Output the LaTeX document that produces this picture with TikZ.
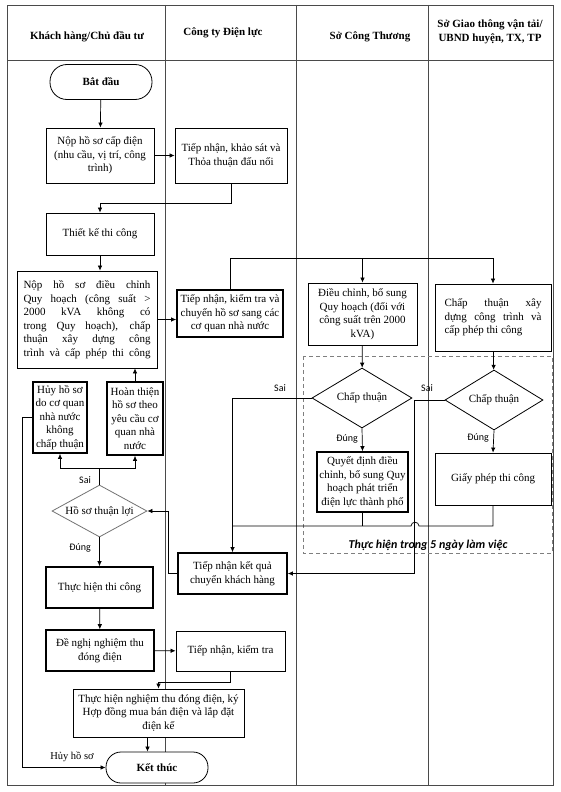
\documentclass[tikz,border=0pt]{standalone}
\usepackage{fontspec}
\setmainfont{Liberation Serif}
\newfontfamily\calibri{Carlito}
\usepackage{xcolor}
\definecolor{rule}{HTML}{4A4A4A}
\definecolor{dashgray}{HTML}{7F7F7F}
\usepackage{tikz}
\usetikzlibrary{shapes.geometric,arrows.meta,positioning,calc}
\newcommand{\boxfont}{\fontsize{11}{13.5}\selectfont}
\newcommand{\fillline}[1]{\makebox[\hsize][s]{\spaceskip=0pt\xspaceskip=0pt\relax #1}}

\begin{document}
\begin{tikzpicture}[x=1pt, y=-1pt,
    box/.style={draw, fill=white, line width=0.8pt, align=center, inner sep=1pt, font=\boxfont},
    heavy/.style={box, line width=1.6pt},
    decision/.style={diamond, draw, fill=white, line width=0.8pt, inner sep=0pt, shape aspect=1.8, font=\boxfont},
    terminal/.style={box, rounded corners=15pt, font=\boxfont\bfseries},
    arr/.style={-{Latex[length=5pt,width=4.5pt]}, line width=0.7pt},
    link/.style={line width=0.7pt},
    lbl/.style={font=\calibri\fontsize{10}{12}\selectfont, inner sep=1pt},
    head/.style={font=\fontsize{11}{13.5}\selectfont\bfseries, align=center}]
    \useasboundingbox (0,0) rectangle (561,792);

    % Swimlane table
    \draw[rule, line width=0.8pt] (7,5) rectangle (553,785);
    \draw[rule, line width=0.8pt] (7,60) -- (553,60);
    \foreach \x in {165,296,428} {
      \draw[rule, line width=0.8pt] (\x,5) -- (\x,785);
    }
    \node[head] (lane1) at (87,37) {Khách hàng/Chủ đầu tư};
    \node[head] (lane2) at (223,33) {Công ty Điện lực};
    \node[head] (lane3) at (370,37) {Sở Công Thương};
    \node[head] (lane4) at (490,32) {Sở Giao thông vận tải/\\UBND huyện, TX, TP};

    % Five working days frame
    \draw[dashgray, line width=0.9pt, dash pattern=on 4pt off 3pt] (303,356) rectangle (552,553);
    \node[font=\calibri\bfseries\itshape\fontsize{12}{14}\selectfont] (hanxuly) at (428,545) {Thực hiện trong 5 ngày làm việc};

    % Customer lane
    \node[terminal, rounded corners=17pt, minimum width=102pt, minimum height=35pt] (batdau) at (101,82) {Bắt đầu};
    \node[box, minimum width=108pt, minimum height=55pt] (capdien) at (100,155.5) {Nộp hồ sơ cấp điện\\(nhu cầu, vị trí, công\\trình)};
    \node[box, minimum width=108pt, minimum height=42pt] (thietke) at (100,234) {Thiết kế thi công};
    \node[box, text width=127pt, align=justify, minimum width=140pt, minimum height=97pt] (dieuchinh) at (87,319.5)
      {\fillline{Nộp hồ sơ điều chỉnh}\\\fillline{Quy hoạch (công suất >}\\\fillline{2000 kVA không có}\\\fillline{trong Quy hoạch), chấp}\\\fillline{thuận xây dựng công}\\\fillline{trình và cấp phép thi công}};
    \node[heavy, minimum width=54pt, minimum height=71pt] (huyhs) at (60,417.5) {Hủy hồ sơ\\do cơ quan\\nhà nước\\không\\chấp thuận};
    \node[heavy, minimum width=56pt, minimum height=73pt] (hoanthien) at (135,418.5) {Hoàn thiện\\hồ sơ theo\\yêu cầu cơ\\quan nhà\\nước};
    \node[decision, draw=black!55, minimum width=95pt, minimum height=52pt] (thuanloi) at (99.5,511) {Hồ sơ thuận lợi};
    \node[heavy, minimum width=107pt, minimum height=41pt] (thicong) at (99.5,587.5) {Thực hiện thi công};
    \node[heavy, minimum width=108pt, minimum height=41pt] (denghi) at (100,650.5) {Đề nghị nghiệm thu\\đóng điện};
    \node[box, minimum width=171pt, minimum height=48pt] (nghiemthu) at (158.5,713) {Thực hiện nghiệm thu đóng điện, ký\\Hợp đồng mua bán điện và lắp đặt\\điện kế};
    \node[terminal, minimum width=102pt, minimum height=31pt] (ketthuc) at (157,767.5) {Kết thúc};

    % Power company lane
    \node[box, minimum width=112pt, minimum height=55pt] (khaosat) at (231,155.5) {Tiếp nhận, khảo sát và\\Thỏa thuận đấu nối};
    \node[heavy, minimum width=106pt, minimum height=47pt] (chuyenhs) at (230,313.5) {Tiếp nhận, kiểm tra và\\chuyển hồ sơ sang các\\cơ quan nhà nước};
    \node[heavy, minimum width=109pt, minimum height=41pt] (ketqua) at (232.5,573.5) {Tiếp nhận kết quả\\chuyển khách hàng};
    \node[box, minimum width=109pt, minimum height=40pt] (kiemtra) at (230.5,651) {Tiếp nhận, kiểm tra};

    % Department of Industry and Trade lane
    \node[box, minimum width=109pt, minimum height=62pt] (quyhoach) at (362.5,314) {Điều chỉnh, bổ sung\\Quy hoạch (đối với\\công suất trên 2000\\kVA)};
    \node[decision, minimum width=100pt, minimum height=60pt] (duyet1) at (362,398) {Chấp thuận};
    \node[heavy, minimum width=91pt, minimum height=60pt] (quyetdinh) at (362.5,482) {Quyết định điều\\chỉnh, bổ sung Quy\\hoạch phát triển\\điện lực thành phố};

    % Transport department lane
    \node[box, text width=97pt, align=justify, minimum width=116pt, minimum height=67pt] (xaydung) at (493,317.5)
      {\fillline{Chấp thuận xây}\\\fillline{dựng công trình và}\\cấp phép thi công};
    \node[decision, minimum width=98pt, minimum height=60pt] (duyet2) at (494,400) {Chấp thuận};
    \node[box, minimum width=116pt, minimum height=52pt] (giayphep) at (493,479) {Giấy phép thi công};

    % Connectors
    \coordinate (phanphoi) at (230,258);
    \coordinate (hopnhat) at (232.5,526);
    \coordinate (rephai) at (99.5,468);
    \draw[arr] (batdau) -- (capdien);
    \draw[arr] (capdien) -- (khaosat);
    \draw[arr] (khaosat.south) -- ++(0,20) -| (thietke.north);
    \draw[arr] (thietke.south) -- (thietke.south |- dieuchinh.north);
    \draw[arr] (dieuchinh.east) -- (dieuchinh.east -| chuyenhs.west);
    \draw[arr] (chuyenhs.north) -- (phanphoi) -| (xaydung.north);
    \draw[arr] (phanphoi -| quyhoach.north) -- (quyhoach.north);
    \draw[arr] (quyhoach) -- (duyet1);
    \draw[arr] (xaydung) -- (duyet2);
    \draw[arr] (duyet1.west) -| (ketqua.north);
    \node[lbl] (sai1) at (280,388) {Sai};
    \draw[arr] (duyet1.south) -- (quyetdinh.north);
    \node[lbl] (dung1) at (347,439) {Đúng};
    \draw[arr] (duyet2.west) -- ++(-30,0) |- (ketqua.east);
    \node[lbl] (sai2) at (427,388) {Sai};
    \draw[arr] (duyet2.south) -- (giayphep.north);
    \node[lbl] (dung2) at (478,438) {Đúng};
    \draw[link] (quyetdinh.south) -- (quyetdinh.south |- hopnhat);
    \draw[link] (giayphep.south) |- (419,526) .. controls (419,521) and (411,521) .. (411,526) -- (hopnhat);
    \draw[arr] (ketqua.west) -- ++(-9,0) |- (thuanloi.east);
    \draw[link] (thuanloi.north) -- (rephai);
    \draw[arr] (rephai) -| (huyhs.south);
    \draw[arr] (rephai) -| (hoanthien.south);
    \node[lbl] (sai3) at (85,480) {Sai};
    \draw[arr] (hoanthien.north) -- (hoanthien.north |- dieuchinh.south);
    \draw[arr] (huyhs.west) -- ++(-10,0) |- (ketthuc.west);
    \node[font=\fontsize{10.5}{12}\selectfont] (huylbl) at (72,757) {Hủy hồ sơ};
    \draw[arr] (thuanloi.south) -- (thicong.north);
    \node[lbl] (dung3) at (80,548) {Đúng};
    \draw[arr] (thicong) -- (denghi);
    \draw[arr] (denghi) -- (kiemtra);
    \draw[arr] (kiemtra.south) -- ++(0,11) -| (nghiemthu.north);
    \draw[arr] ([xshift=-11pt]nghiemthu.south) -- ([xshift=-11pt]nghiemthu.south |- ketthuc.north);
  \end{tikzpicture}
\end{document}
